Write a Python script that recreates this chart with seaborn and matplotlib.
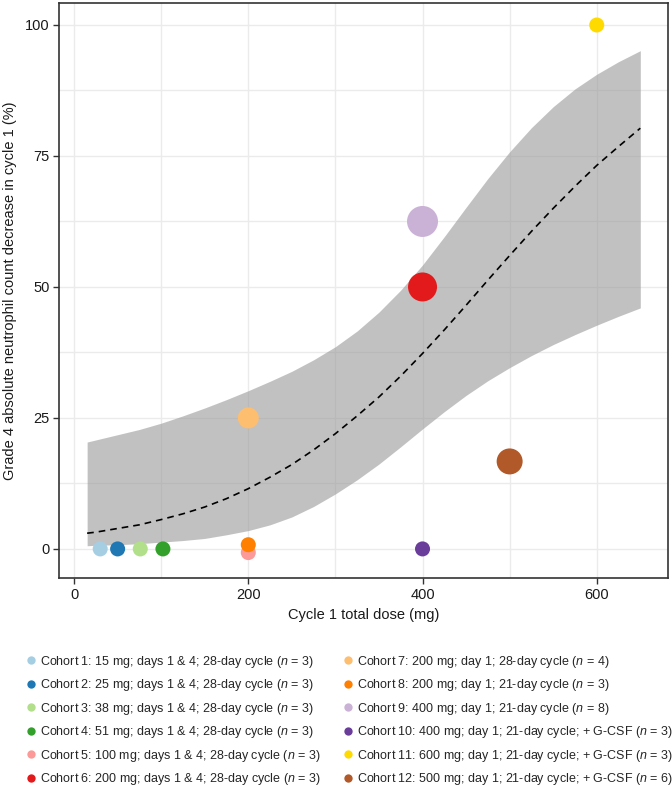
import matplotlib
matplotlib.use("Agg")
import matplotlib.pyplot as plt
import seaborn as sns
import pandas as pd
from matplotlib.lines import Line2D

# ---------------- data ----------------
cohort_labels = [
    r"Cohort 1: 15 mg; days 1 & 4; 28-day cycle ($\mathit{n}$ = 3)",
    r"Cohort 2: 25 mg; days 1 & 4; 28-day cycle ($\mathit{n}$ = 3)",
    r"Cohort 3: 38 mg; days 1 & 4; 28-day cycle ($\mathit{n}$ = 3)",
    r"Cohort 4: 51 mg; days 1 & 4; 28-day cycle ($\mathit{n}$ = 3)",
    r"Cohort 5: 100 mg; days 1 & 4; 28-day cycle ($\mathit{n}$ = 3)",
    r"Cohort 6: 200 mg; days 1 & 4; 28-day cycle ($\mathit{n}$ = 3)",
    r"Cohort 7: 200 mg; day 1; 28-day cycle ($\mathit{n}$ = 4)",
    r"Cohort 8: 200 mg; day 1; 21-day cycle ($\mathit{n}$ = 3)",
    r"Cohort 9: 400 mg; day 1; 21-day cycle ($\mathit{n}$ = 8)",
    r"Cohort 10: 400 mg; day 1; 21-day cycle; + G-CSF ($\mathit{n}$ = 3)",
    r"Cohort 11: 600 mg; day 1; 21-day cycle; + G-CSF ($\mathit{n}$ = 3)",
    r"Cohort 12: 500 mg; day 1; 21-day cycle; + G-CSF ($\mathit{n}$ = 6)",
]
dose_mg = [30, 50, 76, 102, 200, 400, 200, 200, 400, 400, 600, 500]
g4_pct = [0, 0, 0, 0, -0.7, 50, 25, 0.8, 62.5, 0, 100, 16.7]
point_weight = [3, 3, 3, 3, 3, 7, 4, 3, 8, 3, 3, 6]
cohort_colors = ["#A6CEE3", "#1F78B4", "#B2DF8A", "#33A02C", "#FB9A99", "#E31A1C",
                 "#FDBF6F", "#FF7F00", "#CAB2D6", "#6A3D9A", "#FFDA00", "#B15928"]

fit_x = [15, 25, 50, 75, 100, 125, 150, 175, 200, 225, 250, 275, 300, 325,
         350, 375, 400, 425, 450, 475, 500, 525, 550, 575, 600, 625, 650]
fit_y = [3.0, 3.2, 3.9, 4.6, 5.6, 6.7, 8.0, 9.6, 11.5, 13.7, 16.1, 18.9, 22.0, 25.4,
         29.0, 33.0, 37.3, 41.8, 46.5, 51.3, 56.0, 60.6, 65.0, 69.2, 73.2, 76.8, 80.3]
ci_low = [0.6, 0.7, 0.8, 1.0, 1.3, 1.6, 2.0, 2.7, 3.5, 4.6, 6.1, 8.1, 10.5, 13.2,
          16.2, 19.5, 22.9, 26.2, 29.3, 32.1, 34.6, 36.9, 39.0, 40.9, 42.7, 44.4, 46.0]
ci_high = [20.4, 20.8, 21.8, 22.8, 24.0, 25.4, 26.9, 28.5, 30.2, 32.0, 33.9, 36.1, 38.6, 41.6,
           45.2, 49.4, 54.2, 59.6, 65.2, 70.7, 75.8, 80.4, 84.4, 87.8, 90.6, 93.0, 95.1]

x_ticks = [0, 200, 400, 600]
y_ticks = [0, 25, 50, 75, 100]

# ---------------- style ----------------
sns.set_theme(style="white")
plt.rcParams['font.family'] = ['Liberation Sans', 'DejaVu Sans']
plt.rcParams['mathtext.fontset'] = 'custom'
plt.rcParams['mathtext.rm'] = 'Liberation Sans'
plt.rcParams['mathtext.it'] = 'Liberation Sans:italic'

df = pd.DataFrame({"cohort": cohort_labels, "dose": dose_mg, "pct": g4_pct, "w": point_weight})
size_map = {3: 117, 4: 228, 6: 350, 7: 436, 8: 498}

fig = plt.figure(figsize=(6.72, 7.86), dpi=100)
ax = fig.add_axes([0.0885, 0.2643, 0.9055, 0.7319])

ax.fill_between(fit_x, ci_low, ci_high, color="#999999", alpha=0.6, linewidth=0, zorder=2)
sns.lineplot(x=fit_x, y=fit_y, ax=ax, color="black", linestyle=(0, (4, 3)), linewidth=1.2, zorder=3)
sns.scatterplot(data=df, x="dose", y="pct", hue="cohort", hue_order=cohort_labels,
                palette=cohort_colors, size="w", sizes=size_map, linewidth=0,
                legend=False, ax=ax, zorder=4)

ax.set_xlim(-16.75, 681.75)
ax.set_ylim(-5.6, 104.2)
ax.set_xticks(x_ticks)
ax.set_xticks([100, 300, 500], minor=True)
ax.set_yticks(y_ticks)
ax.set_yticks([12.5, 37.5, 62.5, 87.5], minor=True)
ax.set_axisbelow(True)
ax.grid(which="both", color="#EBEBEB", linewidth=1.0)
for s in ax.spines.values():
    s.set_visible(True)
    s.set_color("#333333")
    s.set_linewidth(1.2)
ax.tick_params(which="major", bottom=True, left=True, length=4, width=1, color="#333333",
               labelsize=10.5, labelcolor="#1a1a1a", pad=3)
ax.tick_params(which="minor", length=0)

ax.set_xlabel("Cycle 1 total dose (mg)", fontsize=10.5, color="#1a1a1a", labelpad=4)
ax.set_ylabel("Grade 4 absolute neutrophil count decrease in cycle 1 (%)", fontsize=10.5,
              color="#1a1a1a", labelpad=6)

handles = [Line2D([0], [0], marker="o", linestyle="none", markersize=6,
                  markerfacecolor=c, markeredgewidth=0) for c in cohort_colors]
leg_kw = dict(frameon=False, fontsize=9, handlelength=0.8, handletextpad=0.35,
              labelspacing=0.6, borderpad=0, borderaxespad=0, loc="upper left")
leg1 = fig.legend(handles[:6], cohort_labels[:6], bbox_to_anchor=(0.038, 0.1685), **leg_kw)
leg2 = fig.legend(handles[6:], cohort_labels[6:], bbox_to_anchor=(0.5104, 0.1685), **leg_kw)

fig.savefig("out.png", dpi=100)
